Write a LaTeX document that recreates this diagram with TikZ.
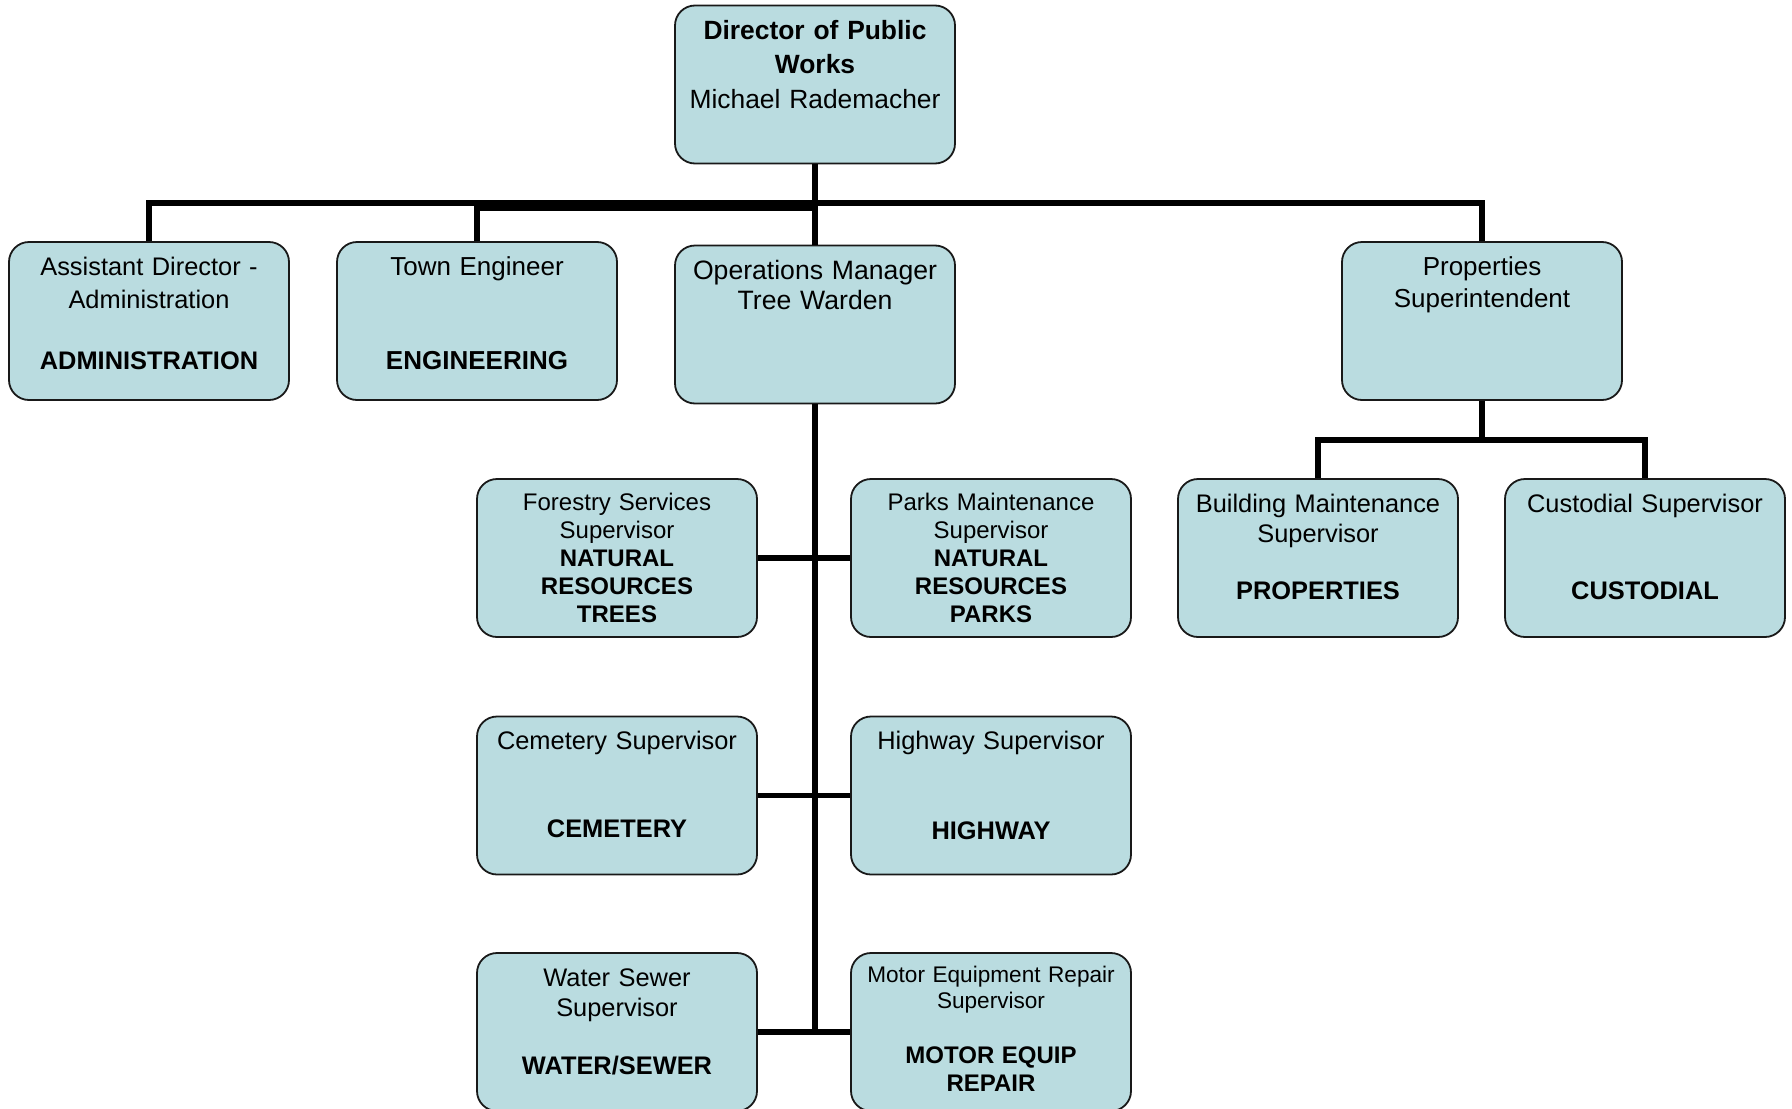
\documentclass[tikz,border=0pt]{standalone}
\usepackage{fontspec}
\setmainfont{Liberation Sans}
\usepackage{tikz}
\usetikzlibrary{calc}
\definecolor{boxblue}{RGB}{186,220,224}

\begin{document}
\begin{tikzpicture}[x=0.5pt,y=-0.5pt]
\tikzstyle{line} = [draw, line width=2.7pt]
\tikzstyle{vertex}=[rectangle,rounded corners=10pt,draw=black!90,line width=0.9pt,fill=boxblue,
  minimum width=140pt,minimum height=79pt,text width=130pt,align=center,
  inner xsep=5pt,inner ysep=0pt,text height=16.5pt,text depth=62.5pt,
  font=\fontsize{12.7pt}{15pt}\selectfont]
\useasboundingbox (0,0) rectangle (1792,1108);
\node[vertex,text height=17pt,text depth=62pt,font=\fontsize{13.2pt}{17.2pt}\selectfont] (W_0) at (815,84.5) {\textbf{Director of Public}\\\textbf{Works}\\Michael Rademacher};
\node[vertex,font=\fontsize{12.7pt}{16.5pt}\selectfont] (W_1) at (149,321) {Assistant Director -\\Administration\\[14pt]\textbf{ADMINISTRATION}};
\node[vertex,font=\fontsize{13pt}{16.5pt}\selectfont] (W_2) at (477,321) {Town Engineer\\[30.5pt]\textbf{ENGINEERING}};
\node[vertex,text height=17pt,text depth=62pt,font=\fontsize{13.3pt}{15pt}\selectfont] (W_3) at (815,324.5) {Operations Manager\\Tree Warden};
\node[vertex,font=\fontsize{13pt}{16pt}\selectfont] (W_4) at (1482,321) {Properties\\Superintendent};
\node[vertex] (W_5) at (1318,558) {Building Maintenance\\Supervisor\\[13.5pt]\textbf{PROPERTIES}};
\node[vertex] (W_6) at (1645,558) {Custodial Supervisor\\[28.5pt]\textbf{CUSTODIAL}};
\node[vertex,text height=15.8pt,text depth=63.2pt,font=\fontsize{12pt}{14pt}\selectfont] (W_7) at (617,558) {Forestry Services\\Supervisor\\\textbf{NATURAL}\\\textbf{RESOURCES}\\\textbf{TREES}};
\node[vertex,text height=15.8pt,text depth=63.2pt,font=\fontsize{12pt}{14pt}\selectfont] (W_8) at (991,558) {Parks Maintenance\\Supervisor\\\textbf{NATURAL}\\\textbf{RESOURCES}\\\textbf{PARKS}};
\node[vertex] (W_9) at (617,795.5) {Cemetery Supervisor\\[29pt]\textbf{CEMETERY}};
\node[vertex] (W_10) at (991,795.5) {Highway Supervisor\\[30pt]\textbf{HIGHWAY}};
\node[vertex] (W_11) at (617,1032) {Water Sewer\\Supervisor\\[14pt]\textbf{WATER/SEWER}};
\node[vertex,text height=14.5pt,text depth=64.5pt,font=\fontsize{11.3pt}{13pt}\selectfont] (W_12) at (991,1032) {Motor Equipment Repair\\Supervisor\\[14.5pt]{\fontsize{12pt}{14pt}\selectfont\bfseries MOTOR EQUIP}\\[1pt]{\fontsize{12pt}{14pt}\selectfont\bfseries REPAIR}};
\coordinate (B_0) at (815,203);
\coordinate (B_1) at (815,208);
\coordinate (B_2) at (1482,440);
\coordinate (B_3) at (815,1033);
\path [line] (W_0) -- (W_3);
\path [line] (W_1.north) |- (B_0);
\path [line] (W_4.north) |- (B_0);
\path [line] (W_2.north) |- (B_1);
\path [line] (W_4) -- (B_2);
\path [line] (W_5.north) |- (B_2);
\path [line] (W_6.north) |- (B_2);
\path [line] (W_3) -- (B_3);
\path [line] (W_7) -- (W_8);
\path [line] (W_9) -- (W_10);
\path [line] (W_11) -- (W_12);
\end{tikzpicture}
\end{document}
